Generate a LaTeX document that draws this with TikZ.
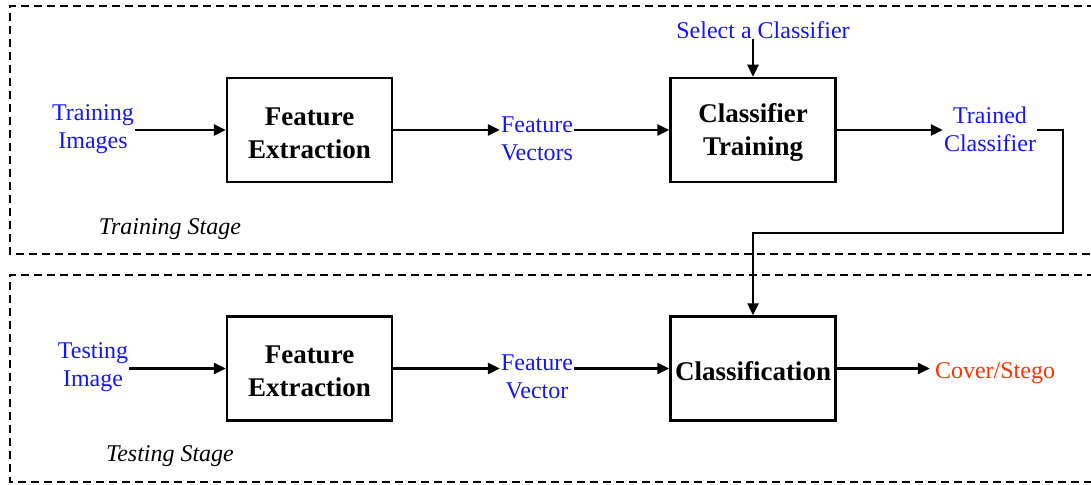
\documentclass[tikz,border=0pt]{standalone}
\usepackage{fontspec}
\setmainfont{Liberation Serif}
\usetikzlibrary{arrows.meta}
\definecolor{lblblue}{RGB}{20,20,255}
\definecolor{outred}{RGB}{255,51,0}
\begin{document}
\begin{tikzpicture}[x=1pt,y=-1pt,
  box/.style={draw,line width=2.5pt,minimum width=165pt,minimum height=104pt,inner sep=0pt,align=center,font=\bfseries\fontsize{27}{33}\selectfont},
  lbl/.style={text=lblblue,align=center,inner sep=1pt,font=\fontsize{24}{28}\selectfont},
  stage/.style={font=\itshape\fontsize{24}{28}\selectfont,inner sep=0pt},
  frame/.style={dashed,dash pattern=on 8pt off 5pt,line width=2.5pt},
  arr/.style={line width=2.5pt,-{Triangle[length=12pt,width=11pt]}},
  ln/.style={line width=2.5pt}]
\useasboundingbox (0,0) rectangle (1091,484);
\clip (0,0) rectangle (1091,484);
\draw[frame] (1095,6) -- (10,6) -- (10,254) -- (1095,254);
\draw[frame] (1095,275) -- (10,275) -- (10,482) -- (1095,482);

\node[box] (fe1) at (309.5,130) {\rule{0pt}{24pt}Feature\\Extraction};
\node[box] (ct) at (753,130) {\rule{0pt}{24pt}Classifier\\Training};
\node[box] (fe2) at (309.5,368.5) {\rule{0pt}{24pt}Feature\\Extraction};
\node[box] (cl) at (753,368.5) {\rule{0pt}{24pt}Classification};

\node[lbl] (ti) at (93,129) {Training\\Images};
\node[lbl] (fv1) at (537,139) {Feature\\Vectors};
\node[lbl] (tc) at (990,129) {Trained\\Classifier};
\node[lbl,inner sep=0pt] (sc) at (763,30) {Select a Classifier};
\node[stage] (ts1) at (170,229) {Training Stage};

\node[lbl] (te) at (93,367) {Testing\\Image};
\node[lbl] (fv2) at (537,377) {Feature\\Vector};
\node[lbl,text=outred,inner sep=5pt] (cs) at (995,373) {Cover/Stego};
\node[stage] (ts2) at (170,456) {Testing Stage};

\coordinate (bend) at (1063,233);

\draw[arr] (ti.east |- fe1.west) -- (fe1.west);
\draw[arr] (fe1.east) -- (fv1.west |- fe1.east);
\draw[arr] (fv1.east |- ct.west) -- (ct.west);
\draw[arr] (ct.east) -- (tc.west |- ct.east);
\draw[arr] (sc.south -| ct.north) -- (ct.north);
\draw[arr] (tc.east |- ct.east) -| (bend) -| (cl.north);

\draw[arr] (te.east |- fe2.west) -- (fe2.west);
\draw[arr] (fe2.east) -- (fv2.west |- fe2.east);
\draw[arr] (fv2.east |- cl.west) -- (cl.west);
\draw[arr] (cl.east) -- (cs.west |- cl.east);
\end{tikzpicture}
\end{document}
